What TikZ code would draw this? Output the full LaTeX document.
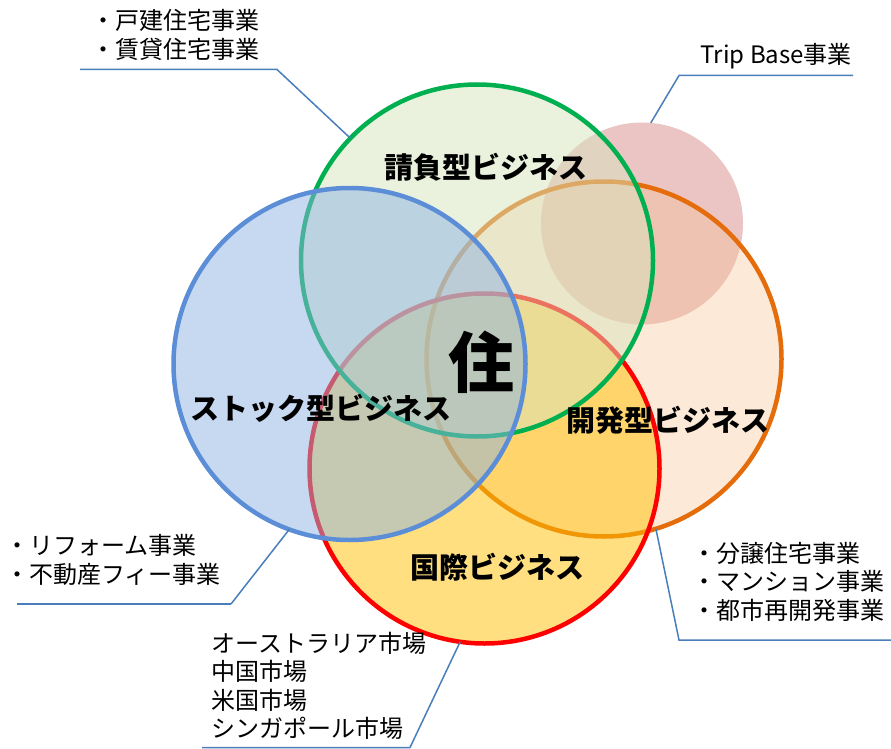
\documentclass[tikz,border=0pt]{standalone}
\usepackage{fontspec}
\newfontfamily\jp{Noto Sans CJK JP}
\definecolor{ringgreen}{HTML}{00B050}
\definecolor{ringblue}{HTML}{5B8ED6}
\definecolor{ringorange}{HTML}{E46C0A}
\definecolor{ringred}{HTML}{FF0000}
\definecolor{fillgreen}{HTML}{D7E4BD}
\definecolor{fillblue}{HTML}{8EB4E3}
\definecolor{fillorange}{HTML}{FAC090}
\definecolor{fillyellow}{HTML}{FFC000}
\definecolor{fillpink}{HTML}{D99694}
\definecolor{leadblue}{HTML}{4A7EBB}
\begin{document}
\begin{tikzpicture}[x=1pt,y=-1pt,
  ring/.style={circle, inner sep=0pt, outer sep=0pt, line width=4.5pt},
  lbl/.style={font=\jp\fontsize{24}{28}\selectfont, inner sep=0pt, text=black},
  big/.style={font=\jp\bfseries\fontsize{29}{34}\selectfont, inner sep=0pt, text=black},
  lead/.style={draw=leadblue, line width=1.5pt}]
\useasboundingbox (0,0) rectangle (891,749);
\fill[white] (0,0) rectangle (891,749);

% circles, bottom to top
\node[circle, inner sep=0pt, outer sep=0pt, minimum size=202pt, fill=fillpink, fill opacity=0.55] (trip) at (642,223.5) {};
\node[ring, minimum size=355pt, draw=ringorange, fill=fillorange, fill opacity=0.35] (kaihatsu) at (604,359) {};
\node[ring, minimum size=350pt, draw=ringred, fill=fillyellow, fill opacity=0.5] (kokusai) at (484.5,468.5) {};
\node[ring, minimum size=352pt, draw=ringgreen, fill=fillgreen, fill opacity=0.5] (ukeoi) at (477,260.5) {};
\node[ring, minimum size=352pt, draw=ringblue, fill=fillblue, fill opacity=0.5] (stock) at (349.5,364) {};

% leader lines
\coordinate (tlA) at (80,69.5);
\coordinate (tlB) at (277,69.5);
\draw[lead] (tlA) -- (tlB) -- (ukeoi.136);

\coordinate (trA) at (853,75.5);
\coordinate (trB) at (679,75.5);
\draw[lead] (trA) -- (trB) -- (trip.85);

\coordinate (blA) at (17,604);
\coordinate (blB) at (231,604);
\draw[lead, line width=2.6pt] (blA) -- (blB);
\draw[lead] (blB) -- (stock.250);

\coordinate (bcA) at (202,747.5);
\coordinate (bcB) at (410,747.5);
\draw[lead] (bcA) -- (bcB) -- (kokusai.262);

\coordinate (brA) at (891,640);
\coordinate (brB) at (679,640);
\draw[lead] (brA) -- (brB) -- (kaihatsu.287);

% circle titles
\node[big] (t1) at (486,167) {請負型ビジネス};
\node[big] (t2) at (321,408) {ストック型ビジネス};
\node[big] (t3) at (667.5,420) {開発型ビジネス};
\node[big] (t4) at (497.5,567) {国際ビジネス};
\node[font=\jp\bfseries\fontsize{66}{70}\selectfont, inner sep=0pt] (sumai) at (481,362) {住};

% side labels
\node[lbl, anchor=base west] (a1) at (91,30) {・戸建住宅事業};
\node[lbl, anchor=base west] (a2) at (91,59) {・賃貸住宅事業};

\node[lbl, anchor=base east] (b1) at (852,64) {Trip Base事業};

\node[lbl, anchor=base west] (c1) at (5,554) {・リフォーム事業};
\node[lbl, anchor=base west] (c2) at (5,583) {・不動産フィー事業};

\node[lbl, anchor=base west] (d1) at (211,652) {オーストラリア市場};
\node[lbl, anchor=base west] (d2) at (211,680) {中国市場};
\node[lbl, anchor=base west] (d3) at (211,709) {米国市場};
\node[lbl, anchor=base west] (d4) at (211,737) {シンガポール市場};

\node[lbl, anchor=base west] (e1) at (692,562) {・分譲住宅事業};
\node[lbl, anchor=base west] (e2) at (692,590) {・マンション事業};
\node[lbl, anchor=base west] (e3) at (692,619) {・都市再開発事業};
\end{tikzpicture}
\end{document}
